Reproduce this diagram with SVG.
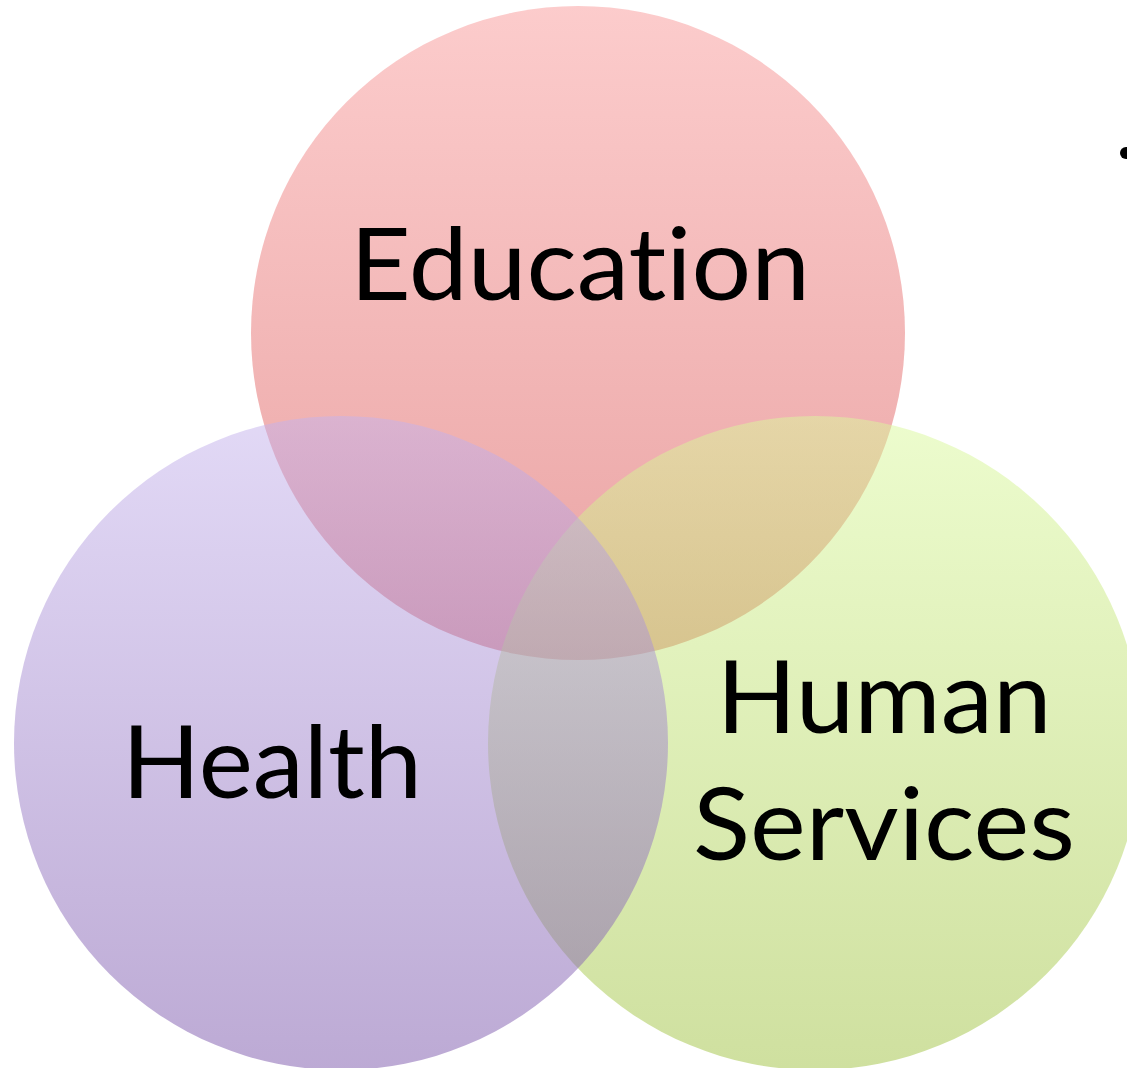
<svg xmlns="http://www.w3.org/2000/svg" width="1127" height="1068" viewBox="0 0 1127 1068">
<style>
.lbl{font-family:Lato,"Open Sans","Liberation Sans",sans-serif;font-size:100px;fill:#000;text-anchor:middle;font-variant-ligatures:none;font-feature-settings:"liga" 0}
.c{fill-opacity:0.5}
</style>
<defs>
<linearGradient id="gE" x1="0" y1="0" x2="0" y2="1"><stop offset="0" stop-color="#f99999"/><stop offset="1" stop-color="#d44848"/></linearGradient>
<linearGradient id="gH" x1="0" y1="0" x2="0" y2="1"><stop offset="0" stop-color="#c5b3ed"/><stop offset="1" stop-color="#7a55aa"/></linearGradient>
<linearGradient id="gS" x1="0" y1="0" x2="0" y2="1"><stop offset="0" stop-color="#daf99c"/><stop offset="1" stop-color="#9fc140"/></linearGradient>
</defs>
<rect width="1127" height="1068" fill="#fff"/>
<g id="education"><circle class="c" cx="578" cy="333" r="327" fill="url(#gE)"/></g>
<g id="human-services"><circle class="c" cx="815" cy="743" r="327" fill="url(#gS)"/></g>
<g id="health"><circle class="c" cx="341" cy="743" r="327" fill="url(#gH)"/></g>
<g id="labels">
<text class="lbl" x="580" y="300" textLength="460" lengthAdjust="spacingAndGlyphs">Education</text>
<text class="lbl" x="272" y="798" textLength="300" lengthAdjust="spacingAndGlyphs">Health</text>
<text class="lbl" x="884" y="733" textLength="335" lengthAdjust="spacingAndGlyphs">Human</text>
<text class="lbl" x="884" y="860" textLength="382" lengthAdjust="spacingAndGlyphs">Services</text>
</g>
<g id="connectors"></g>
<circle cx="1126" cy="153" r="6" fill="#000"/>
</svg>
